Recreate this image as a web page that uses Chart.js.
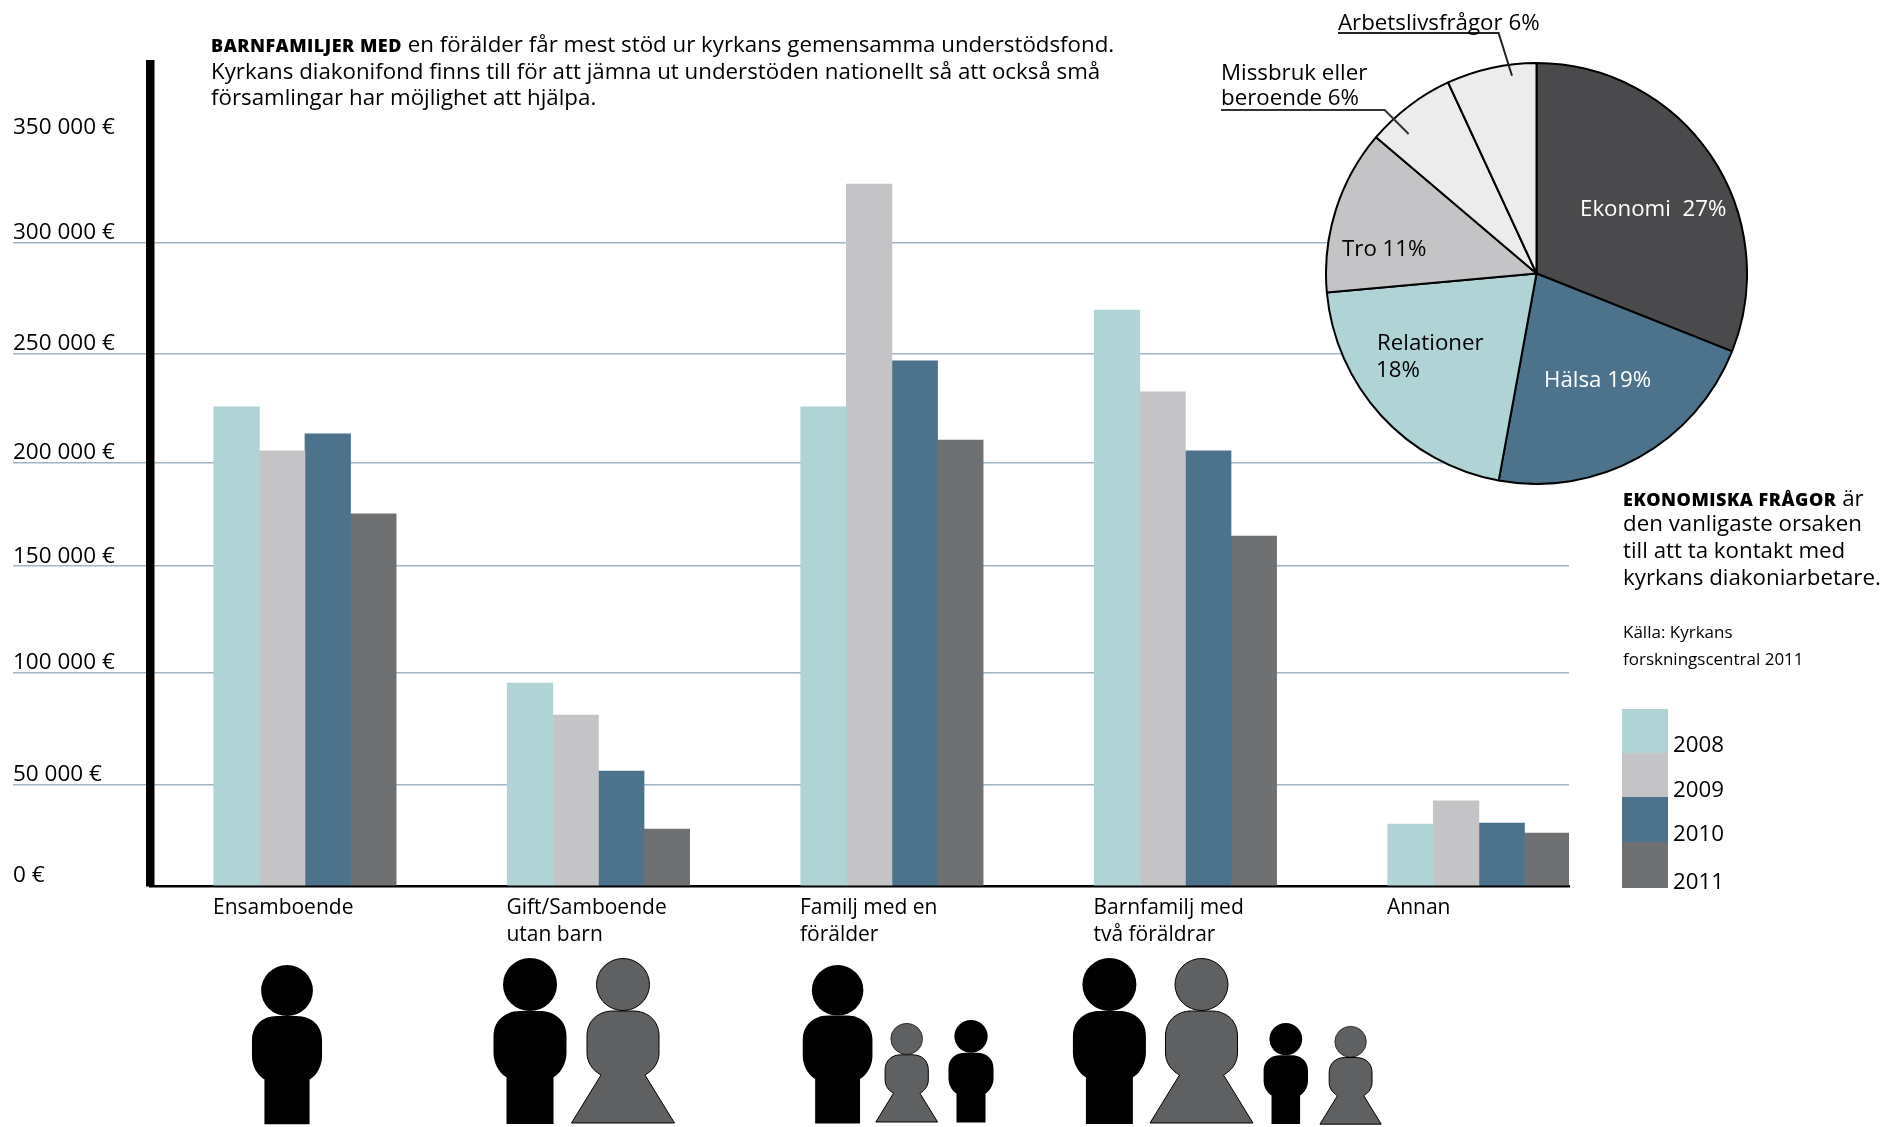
<!DOCTYPE html>
<html lang="sv">
<head>
<meta charset="utf-8">
<title>Barnfamiljer med en förälder</title>
<script src="https://cdn.jsdelivr.net/npm/chart.js@4"></script>
<style>
  html, body { margin: 0; background: #fff; }
  body { position: relative; width: 1901px; height: 1127px; overflow: hidden; font-family: "Open Sans", sans-serif; color: #000; }
  canvas { position: absolute; }
  #barChart { left: 0; top: 0; }
  #pieChart { left: 1324.5px; top: 62px; }
  .t { position: absolute; font-size: 22.3px; white-space: nowrap; transform: translateY(-50%); }
  .w { color: #fff; }
  .b { font-weight: 800; font-size: 18px; letter-spacing: .5px; }
  .s { font-size: 17px; }
  svg { position: absolute; left: 0; top: 0; }
  .swatch { position: absolute; left: 1622px; width: 46px; }
</style>
</head>
<body>
<canvas id="barChart" width="1901" height="1127"></canvas>
<canvas id="pieChart" width="423" height="423"></canvas>

<svg width="1901" height="1127">
  <defs>
    <g id="man" fill="#000">
      <ellipse cx="0" cy="26.5" rx="27" ry="26.5"/>
      <path d="M-23.5 166V119H-24C-32 114 -36.5 104 -36.5 95V78C-36.5 62 -24 53 -10 53H10C24 53 36.5 62 36.5 78V95C36.5 104 32 114 24 119H23.5V166Z"/>
    </g>
    <g id="woman" fill="#5f6062" stroke="#000" stroke-width="1">
      <ellipse cx="0" cy="26.5" rx="26.5" ry="26"/>
      <path d="M-51.5 165L-22 117C-31 112 -36 104 -36 95V78C-36 62 -24 53 -10 53H10C24 53 36 62 36 78V95C36 104 31 112 22 117L51.5 165Z" vector-effect="non-scaling-stroke"/>
    </g>
  </defs>
  <!-- people under the categories -->
  <use href="#man" transform="translate(287 965) scale(.96)"/>
  <use href="#man" transform="translate(530 958)"/>
  <use href="#woman" transform="translate(623 958)"/>
  <use href="#man" transform="translate(837.6 965) scale(.955)"/>
  <use href="#woman" transform="translate(906.7 1023) scale(.6)"/>
  <use href="#man" transform="translate(971 1020) scale(.617)"/>
  <use href="#man" transform="translate(1109.4 958)"/>
  <use href="#woman" transform="translate(1201.5 958)"/>
  <use href="#man" transform="translate(1285.8 1023) scale(.608)"/>
  <use href="#woman" transform="translate(1350.6 1026) scale(.595)"/>
  <!-- leader lines for the pie -->
  <path d="M1338 33H1498.6L1512 75.7" fill="none" stroke="#222" stroke-width="2"/>
  <path d="M1221 110H1384.7L1408.6 134" fill="none" stroke="#333" stroke-width="2"/>
</svg>

<div class="t" style="left:211px;top:43px"><span class="b">BARNFAMILJER MED</span> en förälder får mest stöd ur kyrkans gemensamma understödsfond.</div>
<div class="t" style="left:211px;top:70px">Kyrkans diakonifond finns till för att jämna ut understöden nationellt så att också små</div>
<div class="t" style="left:211px;top:96px">församlingar har möjlighet att hjälpa.</div>

<div class="t" style="left:1338px;top:21px">Arbetslivsfrågor 6%</div>
<div class="t" style="left:1221px;top:71px">Missbruk eller</div>
<div class="t" style="left:1221px;top:96px">beroende 6%</div>
<div class="t w" style="left:1580px;top:207px">Ekonomi&nbsp; 27%</div>
<div class="t w" style="left:1544px;top:378px">Hälsa 19%</div>
<div class="t" style="left:1377px;top:341px">Relationer</div>
<div class="t" style="left:1376px;top:368px">18%</div>
<div class="t" style="left:1342px;top:247px">Tro 11%</div>

<div class="t" style="left:1623px;top:497px"><span class="b">EKONOMISKA FRÅGOR</span> är</div>
<div class="t" style="left:1623px;top:522px">den vanligaste orsaken</div>
<div class="t" style="left:1623px;top:549px">till att ta kontakt med</div>
<div class="t" style="left:1623px;top:576px">kyrkans diakoniarbetare.</div>
<div class="t s" style="left:1623px;top:631px">Källa: Kyrkans</div>
<div class="t s" style="left:1623px;top:658px">forskningscentral 2011</div>

<div id="legend"></div>

<script>
// Categories and series
const categories = [
  "Ensamboende",
  ["Gift/Samboende", "utan barn"],
  ["Familj med en", "förälder"],
  ["Barnfamilj med", "två föräldrar"],
  "Annan"
];
const years = ["2008", "2009", "2010", "2011"];
const values2008 = [223500, 94700, 223500, 268700, 28900];
const values2009 = [203000, 79700, 327500, 230500, 39700];
const values2010 = [210900, 53600, 245000, 203000, 29400];
const values2011 = [173600, 26600, 208100, 163300, 24700];
const yearColors = ["#b0d3d6", "#c4c4c6", "#4d738c", "#6f7072"];

// The gridlines in the picture are not evenly spaced, so these are where they really sit
const yTickValues = [0, 47300, 99500, 149200, 197400, 248400, 300000, 349000];
const yTickLabels = ["0 €", "50 000 €", "100 000 €", "150 000 €", "200 000 €", "250 000 €", "300 000 €", "350 000 €"];

const pieLabels = ["Ekonomi", "Hälsa", "Relationer", "Tro", "Missbruk eller beroende", "Arbetslivsfrågor"];
const pieValues = [27, 19, 18, 11, 6, 6];
const pieColors = ["#4a4a4c", "#4d738c", "#b0d3d6", "#c4c4c6", "#ececec", "#ececec"];

const seriesValues = [values2008, values2009, values2010, values2011];

new Chart(document.getElementById("barChart").getContext("2d"), {
  type: "bar",
  data: {
    datasets: years.map((year, i) => ({
      label: year,
      data: seriesValues[i].map((v, c) => ({ x: c, y: v })),
      backgroundColor: yearColors[i],
      barThickness: 45.6
    }))
  },
  options: {
    responsive: false,
    animation: false,
    layout: { padding: { left: 13, top: 64, right: 332, bottom: 0 } },
    plugins: { legend: { display: false }, tooltip: { enabled: false } },
    scales: {
      x: {
        type: "linear",
        offset: false,
        min: -0.528,
        max: 4.307,
        bounds: "data",
        afterBuildTicks: scale => { scale.ticks = categories.map((c, i) => ({ value: i })); },
        afterFit: scale => { scale.height = 241; },
        grid: { display: false, drawTicks: false, offset: false },
        border: { color: "#000", width: 2.5 },
        ticks: {
          autoSkip: false,
          maxRotation: 0,
          align: "start",
          labelOffset: -92,
          padding: 9,
          color: "#000",
          font: { family: "Open Sans", size: 21, lineHeight: 1.27 },
          callback: (v, i) => categories[i]
        }
      },
      y: {
        min: 0,
        max: 383500,
        bounds: "data",
        afterBuildTicks: scale => { scale.ticks = yTickValues.map(v => ({ value: v })); },
        afterFit: scale => { scale.width = 137; },
        grid: {
          color: ctx => (ctx.index === 0 || ctx.index === yTickValues.length - 1) ? "rgba(0,0,0,0)" : "#9fb5c3",
          lineWidth: 1.5,
          tickLength: 137
        },
        border: { color: "#000", width: 8.5 },
        ticks: {
          autoSkip: false,
          crossAlign: "far",
          labelOffset: -10,
          padding: 0,
          color: "#000",
          font: { family: "Open Sans", size: 22.5 },
          callback: (v, i) => yTickLabels[i]
        }
      }
    }
  }
});

new Chart(document.getElementById("pieChart").getContext("2d"), {
  type: "pie",
  data: {
    labels: pieLabels,
    datasets: [{
      data: pieValues,
      backgroundColor: pieColors,
      borderColor: "#000",
      borderWidth: 2
    }]
  },
  options: {
    responsive: false,
    animation: false,
    plugins: { legend: { display: false }, tooltip: { enabled: false } }
  }
});

// Year legend on the right
const swatchTops = [709, 753, 797, 842, 888];
const labelTops = [743, 788, 832, 880];
const legend = document.getElementById("legend");
years.forEach((year, i) => {
  const sw = document.createElement("div");
  sw.className = "swatch";
  sw.style.top = swatchTops[i] + "px";
  sw.style.height = (swatchTops[i + 1] - swatchTops[i]) + "px";
  sw.style.background = yearColors[i];
  legend.appendChild(sw);
  const lab = document.createElement("div");
  lab.className = "t";
  lab.style.left = "1673px";
  lab.style.top = labelTops[i] + "px";
  lab.textContent = year;
  legend.appendChild(lab);
});
</script>
</body>
</html>
